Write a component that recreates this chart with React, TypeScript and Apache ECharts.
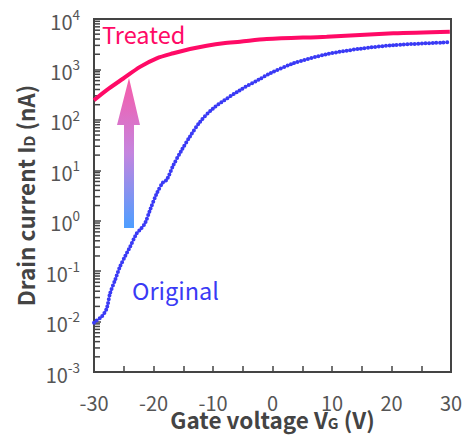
import React, { useEffect, useRef } from "react";
import * as echarts from "echarts";

// Gate voltage (V) and drain current (nA)
const treatedV = [-30, -27.87, -25.08, -22.27, -19.46, -16.67, -13.87, -11.06, -8.27, -5.46, -0.97, 9.1, 20.3, 29.8];
const treatedI = [245, 389, 661, 1122, 1660, 2090, 2540, 2950, 3310, 3550, 4000, 4470, 5200, 5600];

const originalV = [-30, -29.83, -28.7, -27.87, -27.3, -26.47, -25.63, -24.79, -23.95, -22.82, -22.27, -21.43, -20.59, -19.46, -18.35, -17.78, -16.67, -15.26, -13.87, -12.18, -9.95, -5.46, -2.1, -0.42, 3.5, 9.1, 14.7, 20.3, 29.8];
const originalI = [0.0095, 0.01, 0.0126, 0.0182, 0.0363, 0.066, 0.123, 0.195, 0.302, 0.562, 0.661, 0.891, 1.62, 3.47, 5.89, 6.46, 12.6, 25.1, 46.8, 91.2, 170, 389, 646, 832, 1320, 2000, 2570, 3020, 3470];

const yMin = 0.001;
const yMax = 10000;
const decades = [-3, -2, -1, 0, 1, 2, 3];
const minorMultipliers = [2, 3, 4, 5, 6, 7, 8, 9];

const FONT = "'Noto Sans CJK JP', 'Noto Sans', sans-serif";

export default function App() {
  const ref = useRef<HTMLDivElement>(null);

  useEffect(() => {
    if (!ref.current) return;
    const chart = echarts.init(ref.current, undefined, { renderer: "svg" });

    const minorTicks: number[][] = [];
    decades.forEach((d) => {
      minorMultipliers.forEach((m) => minorTicks.push([-30, m * Math.pow(10, d)]));
    });

    const titleRich = {
      t: { fontSize: 22.5, fontWeight: "bold", color: "#444", fontFamily: FONT, lineHeight: 28, verticalAlign: "bottom" },
      sub: { fontSize: 15, fontWeight: "bold", color: "#444", fontFamily: FONT, lineHeight: 13, verticalAlign: "bottom" },
    };

    chart.setOption({
      animation: false,
      textStyle: { fontFamily: FONT },
      grid: {
        left: 94,
        right: 15,
        top: 19,
        bottom: 68,
        show: true,
        borderColor: "#444",
        borderWidth: 2,
        backgroundColor: "transparent",
      },
      xAxis: {
        type: "value",
        min: -30,
        max: 30,
        interval: 5,
        axisLine: { onZero: false, lineStyle: { color: "#444", width: 2 } },
        axisTick: { show: true, inside: true, length: 6, lineStyle: { color: "#444", width: 1.5 } },
        splitLine: { show: false },
        axisLabel: {
          interval: 1,
          margin: 20,
          color: "#555",
          fontSize: 20,
          fontFamily: FONT,
          formatter: (v: number) => (v % 10 === 0 ? String(v) : ""),
        },
        name: "{t|Gate voltage V}{sub|G}{t| (V)}",
        nameLocation: "middle",
        nameGap: 30,
        nameMoveOverlap: false,
        nameTextStyle: {
          color: "#444",
          fontSize: 22.5,
          fontWeight: "bold",
          fontFamily: FONT,
          rich: titleRich,
        },
      },
      yAxis: {
        type: "log",
        logBase: 10,
        min: yMin,
        max: yMax,
        axisLine: { show: true, onZero: false, lineStyle: { color: "#444", width: 2 } },
        axisTick: { show: true, inside: true, length: 7, lineStyle: { color: "#444", width: 1.5 } },
        splitLine: { show: false },
        minorTick: { show: false },
        axisLabel: {
          margin: 14,
          color: "#555",
          fontFamily: FONT,
          formatter: (v: number) => `{b|10}{s|${Math.round(Math.log10(v))}}`,
          rich: {
            b: { fontSize: 20, color: "#555", fontFamily: FONT, verticalAlign: "bottom", lineHeight: 24 },
            s: { fontSize: 13.5, color: "#555", fontFamily: FONT, verticalAlign: "top", lineHeight: 13 },
          },
        },
        name: "{t|Drain current I}{sub|D}{t| (nA)}",
        nameLocation: "middle",
        nameGap: 58,
        nameMoveOverlap: false,
        nameRotate: 90,
        nameTextStyle: {
          color: "#444",
          fontSize: 22.5,
          fontWeight: "bold",
          fontFamily: FONT,
          rich: titleRich,
        },
      },
      series: [
        {
          type: "custom",
          silent: true,
          data: minorTicks,
          renderItem: (_params: any, api: any) => {
            const p = api.coord([api.value(0), api.value(1)]);
            return {
              type: "line",
              shape: { x1: p[0], y1: p[1], x2: p[0] + 6, y2: p[1] },
              style: { stroke: "#444", lineWidth: 1.5 },
            };
          },
          z: 1,
        },
        {
          type: "line",
          name: "Original",
          data: originalV.map((v, i) => [v, originalI[i]]),
          smooth: 0.3,
          showSymbol: false,
          lineStyle: { color: "#3a3af5", width: 4, type: [0, 3.6], cap: "round" },
          z: 3,
        },
        {
          type: "line",
          name: "Treated",
          data: treatedV.map((v, i) => [v, treatedI[i]]),
          smooth: 0.3,
          showSymbol: false,
          lineStyle: { color: "#ff0a66", width: 4 },
          z: 4,
        },
      ],
      graphic: [
        {
          type: "polygon",
          shape: {
            points: [
              [129, 78],
              [140, 125],
              [134, 125],
              [134, 228],
              [124, 228],
              [124, 125],
              [117, 125],
            ],
          },
          style: {
            fill: new echarts.graphic.LinearGradient(0, 0, 0, 1, [
              { offset: 0, color: "#f85aa8" },
              { offset: 0.5, color: "#c585df" },
              { offset: 1, color: "#4d9eff" },
            ]),
          },
          z: 10,
        },
        {
          type: "text",
          left: 102,
          top: 22,
          style: { text: "Treated", fill: "#ff0a66", fontSize: 23.5, fontFamily: FONT },
          z: 10,
        },
        {
          type: "text",
          left: 132,
          top: 278,
          style: { text: "Original", fill: "#3a3af5", fontSize: 23.5, fontFamily: FONT },
          z: 10,
        },
      ],
    });

    return () => chart.dispose();
  }, []);

  return <div ref={ref} style={{ width: 466, height: 440, position: "absolute", left: 0, top: 0 }} />;
}
